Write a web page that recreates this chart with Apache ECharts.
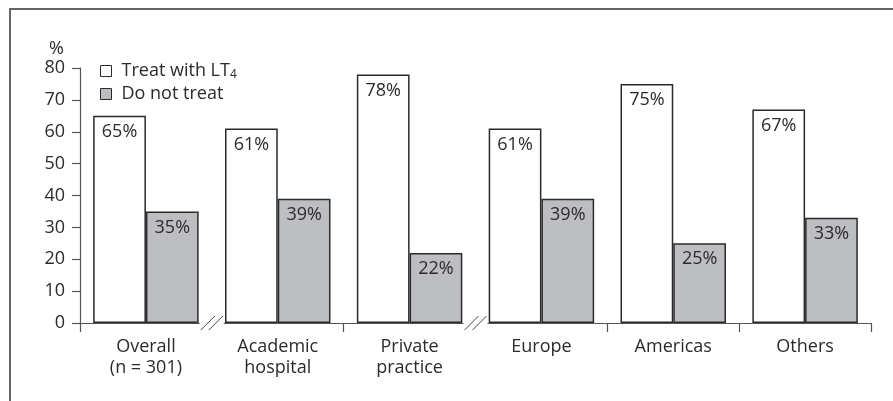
<!DOCTYPE html>
<html><head><meta charset="utf-8">
<script src="https://cdn.jsdelivr.net/npm/echarts@6/dist/echarts.min.js"></script>
<style>html,body{margin:0;padding:0;background:#fff}#c{width:893px;height:401px}</style>
</head><body><div id="c"></div>
<script>
var categories = ['Overall\n(n = 301)', 'Academic\nhospital', 'Private\npractice', 'Europe', 'Americas', 'Others'];
var treatValues = [65, 61, 78, 61, 75, 67];
var noTreatValues = [35, 39, 22, 39, 25, 33];
var seriesNames = ['Treat with LT4', 'Do not treat'];
var yTicks = {min: 0, max: 80, interval: 10};
var breakAfter = [0, 2];

var FONT = 'Open Sans';
var TXT = '#2b2b2b';
var FS = 18;
var chart = echarts.init(document.getElementById('c'), null, {renderer: 'canvas'});
var barBorder = {borderColor: '#2b2b2b', borderWidth: 1.5};
chart.setOption({
  animation: false,
  textStyle: {fontFamily: FONT, color: TXT},
  grid: {left: 80, right: 22, top: 68, bottom: 78},
  legend: {
    orient: 'vertical', left: 95, top: 57, itemWidth: 11, itemHeight: 11, itemGap: 4, icon: 'rect',
    itemStyle: {borderWidth: 1, borderColor: '#2b2b2b'},
    textStyle: {fontFamily: FONT, fontSize: FS, color: TXT,
      rich: {p: {width: 5}, n: {fontFamily: FONT, fontSize: FS, color: TXT}, s: {fontFamily: FONT, fontSize: 12, color: TXT, padding: [8, 0, 0, 0]}}},
    formatter: function (name) {
      if (name === seriesNames[0]) return '{p|}{n|Treat with LT}{s|4}';
      return '{p|}{n|' + name + '}';
    },
    data: seriesNames
  },
  xAxis: {
    type: 'category', data: categories,
    axisLine: {show: true, lineStyle: {color: '#555', width: 1.2}},
    axisTick: {show: true, length: 9, lineStyle: {color: '#555', width: 1.2}},
    axisLabel: {fontFamily: FONT, fontSize: FS, color: TXT, lineHeight: 21, margin: 13}
  },
  yAxis: {
    type: 'value', min: yTicks.min, max: yTicks.max, interval: yTicks.interval,
    name: '%', nameGap: 10,
    nameTextStyle: {fontFamily: FONT, fontSize: FS, color: TXT, align: 'right', padding: [0, 16, 0, 0]},
    splitLine: {show: false},
    axisLine: {show: true, lineStyle: {color: '#555', width: 1.2}},
    axisTick: {show: true, length: 8, lineStyle: {color: '#555', width: 1.2}},
    axisLabel: {fontFamily: FONT, fontSize: FS, color: TXT, margin: 15}
  },
  series: [
    {name: seriesNames[0], type: 'bar', data: treatValues, barGap: '0%', barCategoryGap: '20%',
      itemStyle: Object.assign({color: '#ffffff'}, barBorder),
      label: {show: true, position: 'insideTop', distance: 7, formatter: '{c}%', fontFamily: FONT, fontSize: FS, color: TXT}},
    {name: seriesNames[1], type: 'bar', data: noTreatValues,
      itemStyle: Object.assign({color: '#bdbec2'}, barBorder),
      label: {show: true, position: 'insideTop', distance: 7, formatter: '{c}%', fontFamily: FONT, fontSize: FS, color: TXT}}
  ]
});

function drawDecor() {
  var gfx = [];
  gfx.push({type: 'polyline', shape: {points: [[10, 401], [10, 9], [893, 9]]}, style: {stroke: '#666', lineWidth: 2, fill: null}, silent: true});
  var y0 = chart.convertToPixel({yAxisIndex: 0}, 0);
  breakAfter.forEach(function (i) {
    var a = chart.convertToPixel({xAxisIndex: 0}, i);
    var b = chart.convertToPixel({xAxisIndex: 0}, i + 1);
    var x = (a + b) / 2;
    gfx.push({type: 'rect', shape: {x: x - 12, y: y0 - 3, width: 24, height: 14}, style: {fill: '#fff'}, silent: true, z: 100});
    [-4, 4].forEach(function (o) {
      gfx.push({type: 'line', shape: {x1: x + o - 7, y1: y0 + 7, x2: x + o + 7, y2: y0 - 7}, style: {stroke: '#444', lineWidth: 1}, silent: true, z: 101});
    });
  });
  chart.setOption({graphic: gfx});
}
drawDecor();
</script></body></html>
